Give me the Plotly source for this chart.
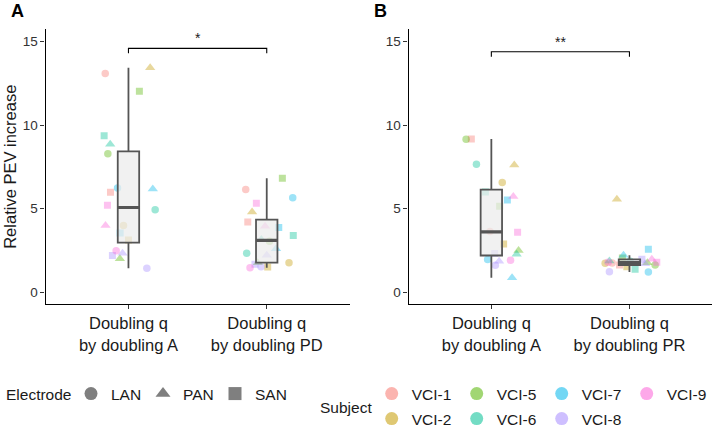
import numpy as np
import plotly.graph_objects as go

subjects = ["VCI-1", "VCI-2", "VCI-5", "VCI-6", "VCI-7", "VCI-8", "VCI-9"]
subject_colors = ["#F8766D", "#C49A00", "#53B400", "#00C094", "#00B6EB", "#A58AFF", "#FB61D7"]
electrodes = ["LAN", "PAN", "SAN"]

labels_a = ["Doubling q<br>by doubling A", "Doubling q<br>by doubling PD"]
labels_b = ["Doubling q<br>by doubling A", "Doubling q<br>by doubling PR"]

# rows follow subjects, columns follow electrodes (LAN, PAN, SAN); None = no recording
a_by_A = [[13.08, None, 5.99], [3.99, 13.43, 3.13], [8.29, 2.00, 12.02], [4.94, 8.85, 9.36],
          [6.23, 6.17, 3.55], [1.43, 2.34, 2.20], [2.48, 3.99, 5.20]]
a_by_PD = [[6.15, None, 4.20], [1.77, 4.80, 1.51], [3.05, 1.77, 6.82], [2.34, 3.15, 3.39],
           [5.65, 2.60, 3.87], [1.53, 2.22, 1.67], [1.47, 3.95, 5.32]]
b_by_A = [[3.63, None, 9.17], [6.57, 7.62, 2.88], [9.15, 2.50, 5.14], [7.66, 2.28, 6.00],
          [1.96, 0.87, 5.52], [1.61, 1.85, 2.32], [1.92, 5.73, 3.59]]
b_by_PR = [[1.75, None, 1.63], [1.73, 5.56, 1.53], [1.63, 1.77, 2.05], [1.85, 1.87, 1.38],
           [1.21, 2.22, 2.57], [1.23, 1.70, 1.97], [1.80, 1.97, 1.79]]

# horizontal jitter (category units)
jit_a_by_A = [[-0.168, None, -0.13], [-0.036, 0.157, 0.0], [-0.149, -0.062, 0.079], [0.193, -0.132, -0.176],
              [-0.079, 0.176, -0.06], [0.133, -0.043, -0.116], [-0.089, -0.166, -0.152]]
jit_a_by_PD = [[-0.152, None, -0.137], [0.161, -0.106, 0.007], [0.02, -0.065, 0.113], [-0.145, -0.039, 0.192],
               [0.188, 0.067, 0.087], [-0.041, 0.0, -0.085], [-0.121, -0.012, -0.075]]
jit_b_by_A = [[-0.01, None, -0.145], [0.079, 0.166, 0.089], [-0.183, 0.197, 0.06], [-0.108, 0.183, -0.043],
              [-0.027, 0.15, 0.116], [0.029, 0.056, 0.024], [0.139, 0.159, 0.19]]
jit_b_by_PR = [[-0.125, None, -0.072], [-0.176, -0.091, -0.019], [0.186, 0.13, -0.051], [0.005, -0.145, 0.041],
               [0.137, -0.043, 0.137], [-0.145, 0.113, 0.09], [-0.154, 0.162, 0.198]]

significance = [("*", 14.59), ("**", 14.39)]

FONT = "Liberation Sans, Arial, sans-serif"
TXT = "#1A1A1A"
SYMBOL = {"LAN": "circle", "PAN": "triangle-up", "SAN": "square"}
MSIZE = {"LAN": 7.5, "PAN": 9, "SAN": 7}
W, H = 714, 427


def rgba(hexcol, a):
    h = hexcol.lstrip("#")
    return "rgba({},{},{},{})".format(int(h[0:2], 16), int(h[2:4], 16), int(h[4:6], 16), a)


def add_points(fig, vals, jit, pos, xa, ya):
    xs, ys, cols, syms, sizes = [], [], [], [], []
    for i, subj in enumerate(subjects):
        for j, el in enumerate(electrodes):
            if vals[i][j] is None:
                continue
            xs.append(pos + jit[i][j])
            ys.append(vals[i][j])
            cols.append(rgba(subject_colors[i], 0.55))
            syms.append(SYMBOL[el])
            sizes.append(MSIZE[el])
    fig.add_trace(go.Scatter(x=xs, y=ys, mode="markers", xaxis=xa, yaxis=ya, showlegend=False,
                             marker=dict(color=cols, symbol=syms, size=sizes, line=dict(width=0)),
                             hoverinfo="skip"))


def add_box(fig, vals, pos, xa, ya):
    arr = np.array([v for row in vals for v in row if v is not None])
    q1, med, q3 = np.percentile(arr, [25, 50, 75])
    iqr = q3 - q1
    lo = arr[arr >= q1 - 1.5 * iqr].min()
    hi = arr[arr <= q3 + 1.5 * iqr].max()
    fig.add_trace(go.Box(x=[pos], q1=[q1], median=[med], q3=[q3], lowerfence=[lo], upperfence=[hi],
                         width=0.155, whiskerwidth=0, boxpoints=False, xaxis=xa, yaxis=ya,
                         fillcolor="rgba(235,235,235,0.72)", line=dict(color="#555555", width=1.8),
                         showlegend=False, hoverinfo="skip"))
    # thicker median bar, as in the original
    fig.add_shape(type="line", xref=xa, yref=ya, x0=pos - 0.0775, x1=pos + 0.0775, y0=med, y1=med,
                  line=dict(color="#555555", width=3.2))


fig = go.Figure()

for vals, jit, pos in [(a_by_A, jit_a_by_A, 0), (a_by_PD, jit_a_by_PD, 1)]:
    add_points(fig, vals, jit, pos, "x", "y")
    add_box(fig, vals, pos, "x3", "y3")
for vals, jit, pos in [(b_by_A, jit_b_by_A, 0), (b_by_PR, jit_b_by_PR, 1)]:
    add_points(fig, vals, jit, pos, "x2", "y2")
    add_box(fig, vals, pos, "x4", "y4")

# legend-only entries
for el in electrodes:
    fig.add_trace(go.Scatter(x=[None], y=[None], mode="markers", name=el, legend="legend",
                             marker=dict(color="#7F7F7F", symbol=SYMBOL[el], size=13)))
row1 = ["VCI-1", "VCI-5", "VCI-7", "VCI-9"]
for subj, col in zip(subjects, subject_colors):
    fig.add_trace(go.Scatter(x=[None], y=[None], mode="markers", name=subj,
                             legend="legend2" if subj in row1 else "legend3",
                             marker=dict(color=rgba(col, 0.55), symbol="circle", size=13)))

XR = [-0.6, 1.6]
YR = [-0.72, 15.73]
ydom = [1 - 304.3 / H, 1 - 29.3 / H]
xdom_a = [45.5 / W, 349.7 / W]
xdom_b = [408.5 / W, 712.3 / W]

xcommon = dict(range=XR, tickvals=[0, 1], showline=True, linecolor="black", linewidth=1.1,
               ticks="outside", ticklen=4, tickcolor="#333333", showgrid=False, zeroline=False,
               tickfont=dict(size=16.5, color=TXT, family=FONT))
ycommon = dict(range=YR, tickvals=[0, 5, 10, 15], showline=True, linecolor="black", linewidth=1.1,
               ticks="outside", ticklen=4, tickcolor="#333333", showgrid=False, zeroline=False,
               tickfont=dict(size=13.5, color="#333333", family=FONT), domain=ydom)
hidden = dict(range=XR, visible=False)

legend_common = dict(orientation="h", bgcolor="rgba(0,0,0,0)", yanchor="middle", xanchor="left",
                     font=dict(size=15.5, color=TXT, family=FONT), itemclick=False)

fig.update_layout(
    width=W, height=H, margin=dict(l=0, r=0, t=0, b=0, autoexpand=False),
    paper_bgcolor="white", plot_bgcolor="white",
    font=dict(family=FONT),
    xaxis=dict(domain=xdom_a, ticktext=labels_a, **xcommon),
    yaxis=dict(anchor="x", **ycommon),
    xaxis2=dict(domain=xdom_b, ticktext=labels_b, anchor="y2", **xcommon),
    yaxis2=dict(anchor="x2", **ycommon),
    xaxis3=dict(overlaying="x", anchor="y3", **hidden),
    yaxis3=dict(overlaying="y", anchor="x3", range=YR, visible=False),
    xaxis4=dict(overlaying="x2", anchor="y4", **hidden),
    yaxis4=dict(overlaying="y2", anchor="x4", range=YR, visible=False),
    legend=dict(x=(91 - 20) / W, y=1 - 394 / H, entrywidth=27, **legend_common),
    legend2=dict(x=(391.7 - 20) / W, y=1 - 394 / H, entrywidth=40, **legend_common),
    legend3=dict(x=(391.7 - 20) / W, y=1 - 419 / H, entrywidth=40, **legend_common),
)

# significance brackets
for (mark, yb), xa, ya in zip(significance, ["x", "x2"], ["y", "y2"]):
    fig.add_shape(type="path", xref=xa, yref=ya,
                  path="M 0,{0} L 0,{1} L 1,{1} L 1,{0}".format(yb - 0.3, yb),
                  line=dict(color="black", width=1.1))
    fig.add_annotation(x=0.5, y=yb, xref=xa, yref=ya, text=mark, showarrow=False,
                       yanchor="bottom", font=dict(size=14, color=TXT, family=FONT))

fig.add_annotation(x=10 / W, y=(ydom[0] + ydom[1]) / 2, xref="paper", yref="paper",
                   xanchor="center", yanchor="middle",
                   text="Relative PEV increase", textangle=-90, showarrow=False,
                   font=dict(size=16.5, color=TXT, family=FONT))
for txt, px, py in [("Electrode", 4, 394), ("Subject", 318, 407)]:
    fig.add_annotation(x=px / W, y=1 - py / H, xref="paper", yref="paper",
                       xanchor="left", yanchor="middle",
                       text=txt, showarrow=False, font=dict(size=15.5, color=TXT, family=FONT))
for lab, px in [("A", 9), ("B", 372)]:
    fig.add_annotation(x=px / W, y=1 - 11 / H, xref="paper", yref="paper",
                       xanchor="left", yanchor="middle",
                       text="<b>" + lab + "</b>", showarrow=False,
                       font=dict(size=18, color="black", family=FONT))

# the page body has a default 8px margin; drop it so the figure sits at the window origin
fig.write_html("out.html", config={"displayModeBar": False},
               post_script="document.body.style.margin='0px';")
